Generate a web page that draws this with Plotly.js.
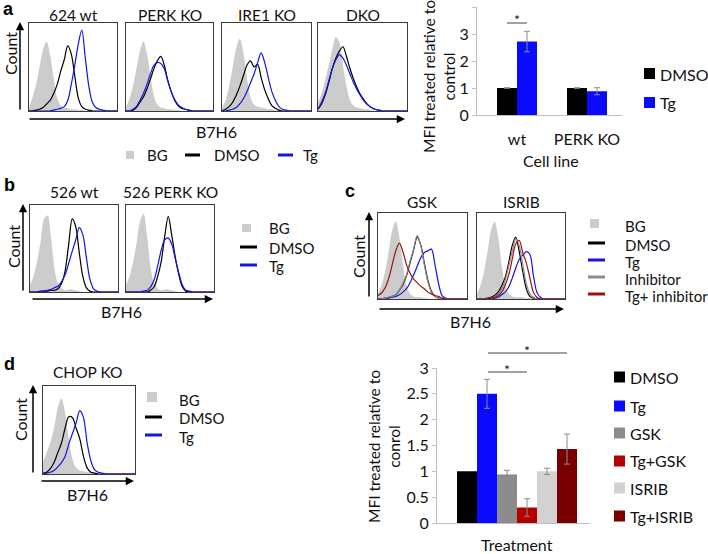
<!DOCTYPE html>
<html>
<head>
<meta charset="utf-8">
<script src="https://cdn.plot.ly/plotly-3.0.1.min.js"></script>
<style>html,body{margin:0;padding:0;background:#fff;}#chart{width:708px;height:554px;}</style>
</head>
<body>
<div id="chart"></div>
<script>
// ---------------- DATA ----------------
// fluorescence bins (B7H6 intensity, arbitrary units across each histogram box)
const bins = [0,4,8,12,16,20,24,28,32,36,40,44,48,52,56,60,64,68,72,76,80,84,88,92,96,100];

// panel a histograms (normalised counts)
const a1_bg   = [4,16,30,50,70,79,64,38,15,6,4,3,2,2,1,1,0,0,0,0,0,0,0,0,0,0];
const a1_dmso = [0,0,1,2,4,8,12,20,30,45,58,74,65,40,15,5,2,1,0,0,0,0,0,0,0,0];
const a1_tg   = [0,0,0,0,0,0,0,1,2,3,5,12,30,52,76,92,60,28,10,4,2,1,0,0,0,0];
const a2_bg   = [4,14,28,48,68,79,66,40,18,7,4,3,2,2,1,1,0,0,0,0,0,0,0,0,0,0];
const a2_dmso = [0,0,1,4,10,16,25,36,48,57,62,52,35,22,12,6,3,2,1,0,0,0,0,0,0,0];
const a2_tg   = [0,0,2,5,12,20,30,42,52,55,54,48,34,22,13,7,4,2,1,0,0,0,0,0,0,0];
const a3_bg   = [3,12,28,50,72,82,66,38,16,7,5,4,3,2,2,1,1,0,0,0,0,0,0,0,0,0];
const a3_dmso = [0,2,5,10,18,28,40,52,57,50,53,38,24,14,6,3,1,0,0,0,0,0,0,0,0,0];
const a3_tg   = [0,0,1,2,4,8,14,22,32,42,55,66,55,38,22,12,5,2,1,0,0,0,0,0,0,0];
const a4_bg   = [10,20,35,52,70,84,78,52,28,12,6,4,3,2,2,1,0,0,0,0,0,0,0,0,0,0];
const a4_dmso = [2,8,18,32,48,60,68,73,62,48,36,26,18,12,7,4,2,1,0,0,0,0,0,0,0,0];
const a4_tg   = [2,10,20,34,48,58,64,60,52,42,32,24,17,11,7,4,2,1,0,0,0,0,0,0,0,0];

// panel a bar chart
const cellLines   = ['wt', 'PERK KO'];
const aBarDMSO    = [1.0, 1.0];
const aBarDMSOErr = [0.01, 0.01];
const aBarTg      = [2.72, 0.88];
const aBarTgErr   = [0.38, 0.13];

// panel b histograms
const b1_bg   = [8,18,35,58,84,88,62,26,9,4,2,3,3,2,1,0,0,0,0,0,0,0,0,0,0,0];
const b1_dmso = [0,0,0,1,1,1,2,2,4,10,25,55,84,75,45,18,5,1,0,0,0,0,0,0,0,0];
const b1_tg   = [0,0,0,0,1,2,3,5,7,12,20,33,47,60,74,66,40,15,4,1,0,0,0,0,0,0];
const b2_bg   = [8,18,34,56,82,90,64,28,10,4,2,3,3,2,1,0,0,0,0,0,0,0,0,0,0,0];
const b2_dmso = [0,0,0,0,0,0,0,2,6,18,35,64,87,65,40,20,6,1,0,0,0,0,0,0,0,0];
const b2_tg   = [0,0,0,0,0,1,2,6,14,30,48,60,62,55,38,22,8,2,1,0,0,0,0,0,0,0];

// panel c histograms
const c1_bg    = [6,16,32,55,80,90,72,40,16,6,3,2,2,1,1,0,0,0,0,0,0,0,0,0,0,0];
const c1_dmso  = [0,0,1,2,3,5,10,17,27,42,57,72,63,42,22,9,3,1,0,0,0,0,0,0,0,0];
const c1_tg    = [0,0,0,1,2,3,5,8,12,19,28,38,48,54,56,58,40,18,4,1,0,0,0,0,0,0];
const c1_inh   = [0,0,1,2,3,5,10,18,28,44,58,74,62,40,20,8,3,1,0,0,0,0,0,0,0,0];
const c1_tginh = [4,7,13,24,40,56,65,55,40,30,23,19,15,12,8,6,4,3,1,0,0,0,0,0,0,0];
const c2_bg    = [6,16,32,55,80,90,72,40,16,6,3,2,2,2,1,1,0,0,0,0,0,0,0,0,0,0];
const c2_dmso  = [0,0,0,1,2,4,8,15,25,42,62,72,55,32,12,3,1,0,0,0,0,0,0,0,0,0];
const c2_tg    = [0,0,0,0,0,1,2,5,8,14,24,36,46,51,55,52,28,8,2,0,0,0,0,0,0,0];
const c2_inh   = [0,0,0,0,1,3,6,12,22,38,55,70,62,40,18,6,2,0,0,0,0,0,0,0,0,0];
const c2_tginh = [0,0,0,0,1,2,4,8,16,28,46,64,68,54,42,25,8,2,0,0,0,0,0,0,0,0];

// panel d histogram
const d_bg   = [14,24,36,52,75,86,70,40,17,7,4,3,2,2,1,0,0,0,0,0,0,0,0,0,0,0];
const d_dmso = [1,2,6,13,24,35,52,65,64,52,40,20,7,2,1,0,0,0,0,0,0,0,0,0,0,0];
const d_tg   = [0,1,2,4,8,13,20,34,46,58,72,64,35,15,5,2,1,0,0,0,0,0,0,0,0,0];

// panel d bar chart
const treatments = ['DMSO', 'Tg', 'GSK', 'Tg+GSK', 'ISRIB', 'Tg+ISRIB'];
const dBarValues = [1.0, 2.5, 0.94, 0.30, 1.0, 1.43];
const dBarErr    = [0, 0.28, 0.08, 0.17, 0.06, 0.29];

// ---------------- STYLE ----------------
const W = 708, H = 554;
const F = 'Lato, "Open Sans", sans-serif';
const X = p => p / W;
const Y = p => 1 - p / H;
const C = {bg:'#cccccc', dmso:'#000000', tg:'#1414e6', inh:'#8c8c8c', tginh:'#9e1010'};
const barColors = ['#000000', '#0a0aff', '#8c8c8c', '#b40000', '#d2d2d2', '#780000'];
const FS = {tick:16, title:15.5, hist:15.5, leg:15, barLeg:16, lab:16};

const traces = [];
const layout = {
  width: W, height: H, margin: {l:0, r:0, t:0, b:0},
  paper_bgcolor: '#ffffff', plot_bgcolor: 'rgba(0,0,0,0)',
  showlegend: false, barmode: 'overlay',
  font: {family: F, size: 14, color: '#111'},
  annotations: [], shapes: []
};
const id = n => (n === 1 ? '' : String(n));

function histAxes(n, x0, x1, y0, y1) {
  const common = {showline:true, mirror:true, linecolor:'#3a3a3a', linewidth:1, showgrid:false,
                  zeroline:false, showticklabels:false, ticks:'', range:[0,100], fixedrange:true};
  layout['xaxis' + id(n)] = Object.assign({}, common, {domain:[X(x0), X(x1)], anchor:'y' + id(n)});
  layout['yaxis' + id(n)] = Object.assign({}, common, {domain:[Y(y1), Y(y0)], anchor:'x' + id(n)});
}
function histLine(n, ys, color, name) {
  traces.push({type:'scatter', mode:'lines', x:bins, y:ys, name:name,
    line:{color:color, width:1.2, shape:'spline', smoothing:0.9},
    xaxis:'x' + id(n), yaxis:'y' + id(n), hoverinfo:'skip'});
}
function histBG(n, ys) {
  traces.push({type:'scatter', mode:'lines', x:bins, y:ys, name:'BG', fill:'tozeroy',
    fillcolor:C.bg, line:{color:'rgba(0,0,0,0)', width:0, shape:'spline', smoothing:0.9},
    xaxis:'x' + id(n), yaxis:'y' + id(n), hoverinfo:'skip'});
}

// annotation helpers
function T(text, x, y, o) {
  o = o || {};
  layout.annotations.push(Object.assign({text:text, x:X(x), y:Y(y), xref:'paper', yref:'paper',
    showarrow:false, xanchor:'center', yanchor:'middle',
    font:{family:F, size:o.size || 14, color:'#111'}}, o.extra || {}));
}
function arrow(x0, y0, x1, y1) {
  layout.annotations.push({text:'', x:X(x1), y:Y(y1), xref:'paper', yref:'paper',
    ax:x0 - x1, ay:y0 - y1, axref:'pixel', ayref:'pixel', showarrow:true,
    arrowhead:2, arrowsize:1.1, arrowwidth:1.5, arrowcolor:'#000'});
}
function rect(x0, y0, x1, y1, color) {
  layout.shapes.push({type:'rect', xref:'paper', yref:'paper', x0:X(x0), x1:X(x1), y0:Y(y1), y1:Y(y0),
    fillcolor:color, line:{width:0}});
}
function hline(x0, x1, y, color, w) {
  layout.shapes.push({type:'line', xref:'paper', yref:'paper', x0:X(x0), x1:X(x1), y0:Y(y), y1:Y(y),
    line:{color:color, width:w}});
}
const LEFT = {xanchor:'left'};
const ROT = {textangle:-90};
const BOLD = {font:{family:'Liberation Sans, Arial, sans-serif', size:18, color:'#000'}};

// ---------------- PANEL a : histograms ----------------
const aBoxes = [[29,117],[126,213],[222,311],[318,407]];
const aTitles = ['624 wt', 'PERK KO', 'IRE1 KO', 'DKO'];
const aData = [[a1_bg,a1_dmso,a1_tg],[a2_bg,a2_dmso,a2_tg],[a3_bg,a3_dmso,a3_tg],[a4_bg,a4_dmso,a4_tg]];
aBoxes.forEach((b, i) => {
  const n = i + 1;
  histAxes(n, b[0], b[1], 23, 111);
  histBG(n, aData[i][0]);
  histLine(n, aData[i][1], C.dmso, 'DMSO');
  histLine(n, aData[i][2], C.tg, 'Tg');
  T(aTitles[i], (b[0] + b[1]) / 2, 15, {size:FS.hist});
});
T('<b>a</b>', 8, 9, {extra:BOLD});
arrow(20, 111, 20, 22);
arrow(28, 119, 405, 119);
T('Count', 10, 54, {size:FS.lab, extra:ROT});
T('B7H6', 217, 131, {size:FS.lab});
// legend a
rect(126, 151, 134, 159, C.bg); T('BG', 145, 155, {size:FS.leg, extra:LEFT});
hline(185, 200, 155, C.dmso, 3); T('DMSO', 212, 155, {size:FS.leg, extra:LEFT});
hline(278, 293, 155, C.tg, 3); T('Tg', 301, 155, {size:FS.leg, extra:LEFT});

// ---------------- PANEL a : bar chart ----------------
layout.xaxis5 = {domain:[X(477), X(622)], anchor:'y5', type:'category', categoryarray:cellLines,
  range:[-0.571, 1.5], showline:true, linecolor:'#bfbfbf', linewidth:1, showgrid:false, zeroline:false,
  ticks:'outside', ticklen:10, tickcolor:'rgba(0,0,0,0)', tickfont:{family:F, size:FS.tick, color:'#111'}, fixedrange:true};
layout.yaxis5 = {domain:[Y(115), Y(7)], anchor:'x5', range:[0,4], dtick:1, showline:true, linecolor:'#bfbfbf',
  linewidth:1, showgrid:false, zeroline:false, ticks:'outside', ticklen:4, tickcolor:'#bfbfbf',
  tickfont:{family:F, size:FS.tick, color:'#111'}, fixedrange:true};
traces.push({type:'bar', name:'DMSO', x:cellLines, y:aBarDMSO, width:0.2857, offset:-0.2857,
  marker:{color:'#000000'}, error_y:{type:'data', array:aBarDMSOErr, color:'#8c8c8c', thickness:1, width:3},
  xaxis:'x5', yaxis:'y5'});
traces.push({type:'bar', name:'Tg', x:cellLines, y:aBarTg, width:0.2857, offset:0,
  marker:{color:'#0a0aff'}, error_y:{type:'data', array:aBarTgErr, color:'#8c8c8c', thickness:1, width:3},
  xaxis:'x5', yaxis:'y5'});
T('MFI treated relative to<br>control', 439, 77, {size:FS.title, extra:ROT});
T('Cell line', 551, 160, {size:FS.lab});
hline(507, 527, 23, '#444', 1);
T('*', 517, 20, {size:14});
rect(644, 68, 655, 79, '#000000'); T('DMSO', 658, 74, {size:FS.barLeg, extra:LEFT});
rect(644, 97, 655, 108, '#0a0aff'); T('Tg', 658, 103, {size:FS.barLeg, extra:LEFT});

// ---------------- PANEL b ----------------
const bBoxes = [[30,118],[126,214]];
const bTitles = ['526 wt', '526 PERK KO'];
const bData = [[b1_bg,b1_dmso,b1_tg],[b2_bg,b2_dmso,b2_tg]];
bBoxes.forEach((b, i) => {
  const n = 6 + i;
  histAxes(n, b[0], b[1], 205, 292);
  histBG(n, bData[i][0]);
  histLine(n, bData[i][1], C.dmso, 'DMSO');
  histLine(n, bData[i][2], C.tg, 'Tg');
  T(bTitles[i], (b[0] + b[1]) / 2, 192, {size:FS.hist});
});
T('<b>b</b>', 9, 185, {extra:BOLD});
arrow(23, 292, 23, 204);
arrow(31, 299, 213, 299);
T('Count', 13, 247, {size:FS.lab, extra:ROT});
T('B7H6', 121, 311, {size:FS.lab});
rect(242, 224, 251, 232, C.bg); T('BG', 267, 228, {size:FS.leg, extra:LEFT});
hline(240, 257, 247, C.dmso, 3); T('DMSO', 267, 248, {size:FS.leg, extra:LEFT});
hline(240, 257, 265, C.tg, 3); T('Tg', 267, 266, {size:FS.leg, extra:LEFT});

// ---------------- PANEL c ----------------
const cBoxes = [[378,467],[477,565]];
const cTitles = ['GSK', 'ISRIB'];
const cData = [[c1_bg,c1_dmso,c1_tg,c1_inh,c1_tginh],[c2_bg,c2_dmso,c2_tg,c2_inh,c2_tginh]];
cBoxes.forEach((b, i) => {
  const n = 8 + i;
  histAxes(n, b[0], b[1], 213, 299);
  histBG(n, cData[i][0]);
  histLine(n, cData[i][1], C.dmso, 'DMSO');
  histLine(n, cData[i][2], C.tg, 'Tg');
  histLine(n, cData[i][3], C.inh, 'Inhibitor');
  histLine(n, cData[i][4], C.tginh, 'Tg+ inhibitor');
  T(cTitles[i], (b[0] + b[1]) / 2, 202, {size:FS.hist});
});
T('<b>c</b>', 350, 191, {extra:BOLD});
arrow(369, 298, 369, 212);
arrow(378, 309, 564, 309);
T('Count', 359, 257, {size:FS.lab, extra:ROT});
T('B7H6', 470, 321, {size:FS.lab});
rect(590, 219, 599, 228, C.bg); T('BG', 623, 226, {size:FS.leg, extra:LEFT});
hline(588, 605, 243, C.dmso, 3); T('DMSO', 623, 245, {size:FS.leg, extra:LEFT});
hline(588, 605, 260, C.tg, 3); T('Tg', 623, 262, {size:FS.leg, extra:LEFT});
hline(588, 605, 277, C.inh, 3); T('Inhibitor', 623, 279, {size:FS.leg, extra:LEFT});
hline(588, 605, 294, C.tginh, 3); T('Tg+ inhibitor', 623, 296, {size:FS.leg, extra:LEFT});

// ---------------- PANEL d : histogram ----------------
histAxes(10, 43, 135, 386, 474);
histBG(10, d_bg);
histLine(10, d_dmso, C.dmso, 'DMSO');
histLine(10, d_tg, C.tg, 'Tg');
T('CHOP KO', 87, 372, {size:FS.hist});
T('<b>d</b>', 9, 364, {extra:BOLD});
arrow(33, 474, 33, 385);
arrow(40, 481, 134, 481);
T('Count', 20, 420, {size:FS.lab, extra:ROT});
T('B7H6', 87, 494, {size:FS.lab});
rect(147, 392, 157, 402, C.bg); T('BG', 177, 400, {size:FS.leg, extra:LEFT});
hline(145, 162, 417, C.dmso, 3); T('DMSO', 177, 418, {size:FS.leg, extra:LEFT});
hline(145, 162, 435, C.tg, 3); T('Tg', 177, 437, {size:FS.leg, extra:LEFT});

// ---------------- PANEL d : bar chart ----------------
layout.xaxis11 = {domain:[X(437), X(590)], anchor:'y11', type:'category', categoryarray:treatments,
  range:[-1.5, 6.15], showline:true, linecolor:'#bfbfbf', linewidth:1, showgrid:false, zeroline:false,
  showticklabels:false, ticks:'', fixedrange:true};
layout.yaxis11 = {domain:[Y(523), Y(368)], anchor:'x11', range:[0,3], dtick:0.5, showline:true,
  linecolor:'#bfbfbf', linewidth:1, showgrid:false, zeroline:false, ticks:'outside', ticklen:4,
  tickcolor:'#bfbfbf', tickfont:{family:F, size:FS.tick, color:'#111'}, fixedrange:true};
treatments.forEach((t, i) => {
  traces.push({type:'bar', name:t, x:[t], y:[dBarValues[i]], width:1,
    marker:{color:barColors[i]},
    error_y:{type:'data', array:[dBarErr[i]], visible:dBarErr[i] > 0, color:'#8c8c8c', thickness:1, width:3},
    xaxis:'x11', yaxis:'y11'});
});
T('MFI treated relative to<br>conrol', 384, 447, {size:FS.title, extra:ROT});
T('Treatment', 517, 544, {size:FS.lab});
hline(488, 527, 372, '#444', 1);
T('*', 507, 369, {size:14});
hline(488, 567, 353, '#444', 1);
T('*', 527, 350, {size:14});
const dLegY = [377, 406, 433, 461, 488, 516];
treatments.forEach((t, i) => {
  rect(614, dLegY[i] - 5.5, 625, dLegY[i] + 5.5, barColors[i]);
  T(t, 628, dLegY[i], {size:FS.barLeg, extra:LEFT});
});

Plotly.newPlot('chart', traces, layout, {staticPlot:true, displayModeBar:false});
</script>
</body>
</html>
